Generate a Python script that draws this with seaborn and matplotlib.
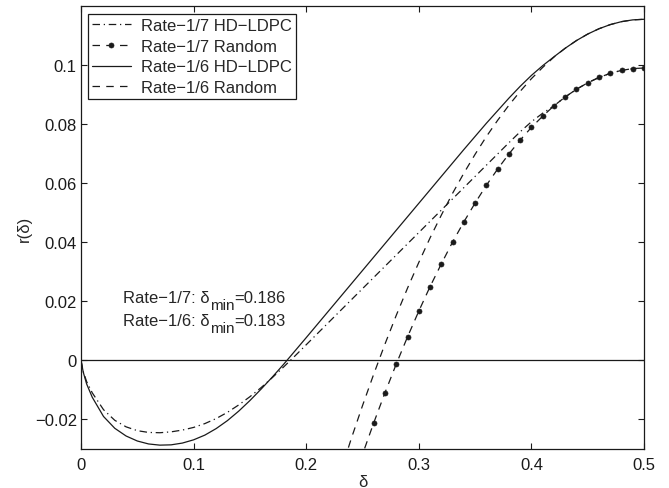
import matplotlib
matplotlib.use('Agg')
import matplotlib.pyplot as plt
import seaborn as sns
import pandas as pd

# weight spectrum growth rate r(delta)
hd_delta = [0, 0.002, 0.005, 0.01, 0.02, 0.03, 0.04, 0.05, 0.06, 0.07, 0.08, 0.09,
            0.10, 0.11, 0.12, 0.13, 0.14, 0.15, 0.16, 0.17, 0.18, 0.19, 0.20, 0.22,
            0.24, 0.26, 0.28, 0.30, 0.32, 0.34, 0.36, 0.38, 0.39, 0.40, 0.41, 0.42,
            0.43, 0.44, 0.45, 0.46, 0.47, 0.48, 0.49, 0.50]
hd_r_17 = [0, -0.0038, -0.0072, -0.0110, -0.0167, -0.0203, -0.0225, -0.0238, -0.0244,
           -0.0245, -0.0242, -0.0236, -0.0227, -0.0214, -0.0197, -0.0176, -0.0151,
           -0.0123, -0.0092, -0.0058, -0.0022, 0.0015, 0.0053, 0.0129, 0.0205, 0.0281,
           0.0357, 0.0433, 0.0509, 0.0585, 0.0661, 0.0737, 0.0774, 0.0808, 0.0837,
           0.0862, 0.0892, 0.0918, 0.0940, 0.0958, 0.0972, 0.0982, 0.0988, 0.0990]
hd_r_16 = [0, -0.0040, -0.0080, -0.0125, -0.0190, -0.0230, -0.0256, -0.0273, -0.0283,
           -0.0287, -0.0286, -0.0280, -0.0269, -0.0253, -0.0231, -0.0204, -0.0172,
           -0.0136, -0.0097, -0.0056, -0.0013, 0.0032, 0.0077, 0.0168, 0.0259, 0.0350,
           0.0441, 0.0532, 0.0623, 0.0714, 0.0803, 0.0888, 0.0928, 0.0965, 0.0998,
           0.1028, 0.1057, 0.1083, 0.1105, 0.1123, 0.1137, 0.1147, 0.1153, 0.1155]

rnd_delta_17 = [0.24, 0.25, 0.26, 0.27, 0.28, 0.29, 0.30, 0.31, 0.32, 0.33, 0.34, 0.35,
                0.36, 0.37, 0.38, 0.39, 0.40, 0.41, 0.42, 0.43, 0.44, 0.45, 0.46, 0.47,
                0.48, 0.49, 0.50]
rnd_r_17 = [-0.0430, -0.0318, -0.0211, -0.0109, -0.0012, 0.0080, 0.0167, 0.0250, 0.0327,
            0.0401, 0.0469, 0.0533, 0.0593, 0.0648, 0.0699, 0.0746, 0.0789, 0.0827,
            0.0862, 0.0892, 0.0918, 0.0940, 0.0958, 0.0972, 0.0982, 0.0988, 0.0990]

rnd_delta_16 = [0.23, 0.24, 0.25, 0.26, 0.27, 0.28, 0.29, 0.30, 0.31, 0.32, 0.33, 0.34,
                0.35, 0.36, 0.37, 0.38, 0.39, 0.40, 0.41, 0.42, 0.43, 0.44, 0.45, 0.46,
                0.47, 0.48, 0.49, 0.50]
rnd_r_16 = [-0.0384, -0.0265, -0.0153, -0.0046, 0.0056, 0.0153, 0.0245, 0.0332, 0.0415,
            0.0492, 0.0566, 0.0634, 0.0698, 0.0758, 0.0813, 0.0864, 0.0911, 0.0954,
            0.0992, 0.1027, 0.1057, 0.1083, 0.1105, 0.1123, 0.1137, 0.1147, 0.1153,
            0.1155]

# annotation: rate, delta_min
note_rates = ['Rate\u22121/7', 'Rate\u22121/6']
note_dmin = ['0.186', '0.183']
note_y = [0.0199, 0.0120]

sns.set_theme(style='ticks')
plt.rcParams['font.family'] = ['Liberation Sans', 'DejaVu Sans']
plt.rcParams['axes.unicode_minus'] = True

fig = plt.figure(figsize=(6.69, 4.89), dpi=100)
ax = fig.add_axes([0.1211, 0.0798, 0.8416, 0.9059])

lw = 0.9
df_hd = pd.DataFrame({'delta': hd_delta, 'r17': hd_r_17, 'r16': hd_r_16})
df_r17 = pd.DataFrame({'delta': rnd_delta_17, 'r': rnd_r_17})
df_r16 = pd.DataFrame({'delta': rnd_delta_16, 'r': rnd_r_16})

sns.lineplot(data=df_hd, x='delta', y='r17', ax=ax, color='k', lw=lw,
             linestyle=(0, (6, 3, 1, 3)), label='Rate\u22121/7 HD\u2212LDPC', sort=False)
sns.lineplot(data=df_r17, x='delta', y='r', ax=ax, color='k', lw=lw,
             linestyle=(0, (6, 5)), marker='o', markersize=3.6,
             markeredgecolor='k', markerfacecolor='k', markeredgewidth=0.5,
             label='Rate\u22121/7 Random', sort=False)
sns.lineplot(data=df_hd, x='delta', y='r16', ax=ax, color='k', lw=lw,
             linestyle='-', label='Rate\u22121/6 HD\u2212LDPC', sort=False)
sns.lineplot(data=df_r16, x='delta', y='r', ax=ax, color='k', lw=lw,
             linestyle=(0, (6, 5)), label='Rate\u22121/6 Random', sort=False)

ax.axhline(0, color='k', lw=0.9)

ax.set_xlim(0, 0.5)
ax.set_ylim(-0.03, 0.12)
ax.set_xticks([0, 0.1, 0.2, 0.3, 0.4, 0.5])
ax.set_xticklabels(['0', '0.1', '0.2', '0.3', '0.4', '0.5'])
ax.set_yticks([-0.02, 0, 0.02, 0.04, 0.06, 0.08, 0.1])
ax.set_yticklabels(['\u22120.02', '0', '0.02', '0.04', '0.06', '0.08', '0.1'])
ax.tick_params(direction='in', top=True, right=True, length=4, width=0.8,
               labelsize=12, colors='k')
ax.tick_params(axis='x', pad=6)
ax.tick_params(axis='y', pad=3)
for s in ax.spines.values():
    s.set_visible(True)
    s.set_linewidth(0.9)
    s.set_color('k')

ax.set_xlabel('\u03b4', fontsize=12, labelpad=1)
ax.set_ylabel('r(\u03b4)', fontsize=12, labelpad=2)

# text with MATLAB-like subscript (nearly full size, dropped ~7px)
sub_drop = 7.3 / 2950
for rate, dmin, y in zip(note_rates, note_dmin, note_y):
    t1 = ax.text(0.0373, y, rate + ': \u03b4', fontsize=12, ha='left', va='baseline')
    t2 = ax.annotate('min', xy=(1, y - sub_drop), xycoords=(t1, 'data'),
                     fontsize=11, ha='left', va='baseline')
    ax.annotate('=' + dmin, xy=(1, y), xycoords=(t2, 'data'),
                fontsize=12, ha='left', va='baseline')

leg = ax.legend(loc='upper left', bbox_to_anchor=(7 / 563, 1 - 8 / 443),
                borderaxespad=0, fontsize=12, frameon=True, fancybox=False,
                handlelength=2.3, handletextpad=0.6, labelspacing=0.34,
                borderpad=0.25, framealpha=1)
leg.get_frame().set_edgecolor('k')
leg.get_frame().set_linewidth(0.9)

plt.savefig('out.png', dpi=100)
plt.close()
